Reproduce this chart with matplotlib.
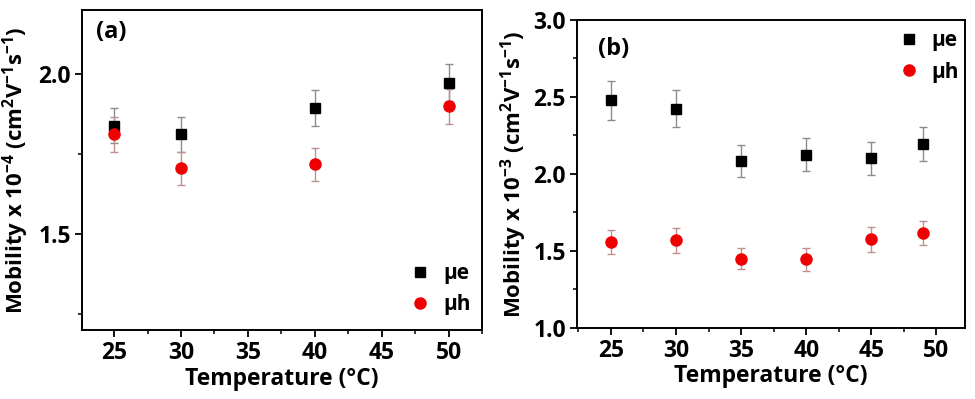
import numpy as np
import matplotlib
matplotlib.use('Agg')
import matplotlib.pyplot as plt
from matplotlib.ticker import MultipleLocator

plt.rcParams['font.family'] = ['Open Sans', 'DejaVu Sans']
plt.rcParams['font.weight'] = 'bold'
plt.rcParams['mathtext.fontset'] = 'custom'
plt.rcParams['mathtext.rm'] = 'Open Sans:bold'
plt.rcParams['mathtext.default'] = 'rm'

# panel (a)
temp_a = [25, 30, 40, 50]
mu_e_a = [1.839, 1.811, 1.894, 1.973]
mu_e_a_err = [0.055, 0.055, 0.057, 0.058]
mu_h_a = [1.811, 1.705, 1.718, 1.899]
mu_h_a_err = [0.055, 0.051, 0.052, 0.054]

# panel (b)
temp_b = [25, 30, 35, 40, 45, 49]
mu_e_b = [2.477, 2.425, 2.083, 2.124, 2.101, 2.196]
mu_e_b_err = [0.124, 0.121, 0.105, 0.107, 0.106, 0.109]
mu_h_b = [1.558, 1.569, 1.450, 1.445, 1.575, 1.616]
mu_h_b_err = [0.080, 0.080, 0.069, 0.072, 0.081, 0.080]

series_labels = ['μe', 'μh']

fig = plt.figure(figsize=(9.75, 3.99), dpi=100)
ax1 = fig.add_axes([0.0841, 0.1729, 0.4103, 0.802])
ax2 = fig.add_axes([0.5918, 0.178, 0.398, 0.772])


def draw(ax, t, e, e_err, h, h_err):
    ce = ax.errorbar(t, e, yerr=e_err, fmt='s', color='black', ms=7,
                     ecolor='#8c8c8c', elinewidth=1, capsize=3, capthick=1,
                     zorder=3)
    ch = ax.errorbar(t, h, yerr=h_err, fmt='o', color='#ee0000', ms=8,
                     ecolor='#c09090', elinewidth=1, capsize=3, capthick=1,
                     zorder=3)
    for s in ax.spines.values():
        s.set_linewidth(1.4)
    ax.xaxis.set_major_locator(MultipleLocator(5))
    ax.xaxis.set_minor_locator(MultipleLocator(2.5))
    ax.yaxis.set_major_locator(MultipleLocator(0.5))
    ax.yaxis.set_minor_locator(MultipleLocator(0.25))
    ax.tick_params(which='major', direction='out', length=5, width=1.3,
                   labelsize=16.5, pad=3)
    ax.tick_params(which='minor', direction='out', length=3, width=1.1)
    ax.set_xlabel('Temperature (°C)', fontsize=16.5, fontweight='bold',
                  labelpad=1)
    for lab in ax.get_xticklabels() + ax.get_yticklabels():
        lab.set_fontweight('bold')
    return [ce[0], ch[0]]


h1 = draw(ax1, temp_a, mu_e_a, mu_e_a_err, mu_h_a, mu_h_a_err)
ax1.set_xlim(22.6, 52.5)
ax1.set_ylim(1.2, 2.2)
ax1.set_ylabel('Mobility x 10$^{-4}$ (cm$^{2}$V$^{-1}$s$^{-1}$)',
               fontsize=16, fontweight='bold', labelpad=5)
ax1.text(0.035, 0.97, '(a)', transform=ax1.transAxes, fontsize=17,
         fontweight='bold', va='top')
ax1.legend(h1, series_labels, loc='lower right', frameon=False, fontsize=15,
           handlelength=0.8, handletextpad=0.7, labelspacing=0.5,
           borderaxespad=0.3, bbox_to_anchor=(1.008, 0.0))

h2 = draw(ax2, temp_b, mu_e_b, mu_e_b_err, mu_h_b, mu_h_b_err)
ax2.set_xlim(22.4, 52.2)
ax2.set_ylim(1.0, 3.0)
ax2.set_ylabel('Mobility x 10$^{-3}$ (cm$^{2}$V$^{-1}$s$^{-1}$)',
               fontsize=16, fontweight='bold', labelpad=3)
ax2.text(0.055, 0.945, '(b)', transform=ax2.transAxes, fontsize=17,
         fontweight='bold', va='top')
ax2.legend(h2, series_labels, loc='upper right', frameon=False, fontsize=15,
           handlelength=0.8, handletextpad=0.7, labelspacing=0.5,
           borderaxespad=0.1, bbox_to_anchor=(1.012, 1.0))

fig.savefig('out.png', dpi=100)
